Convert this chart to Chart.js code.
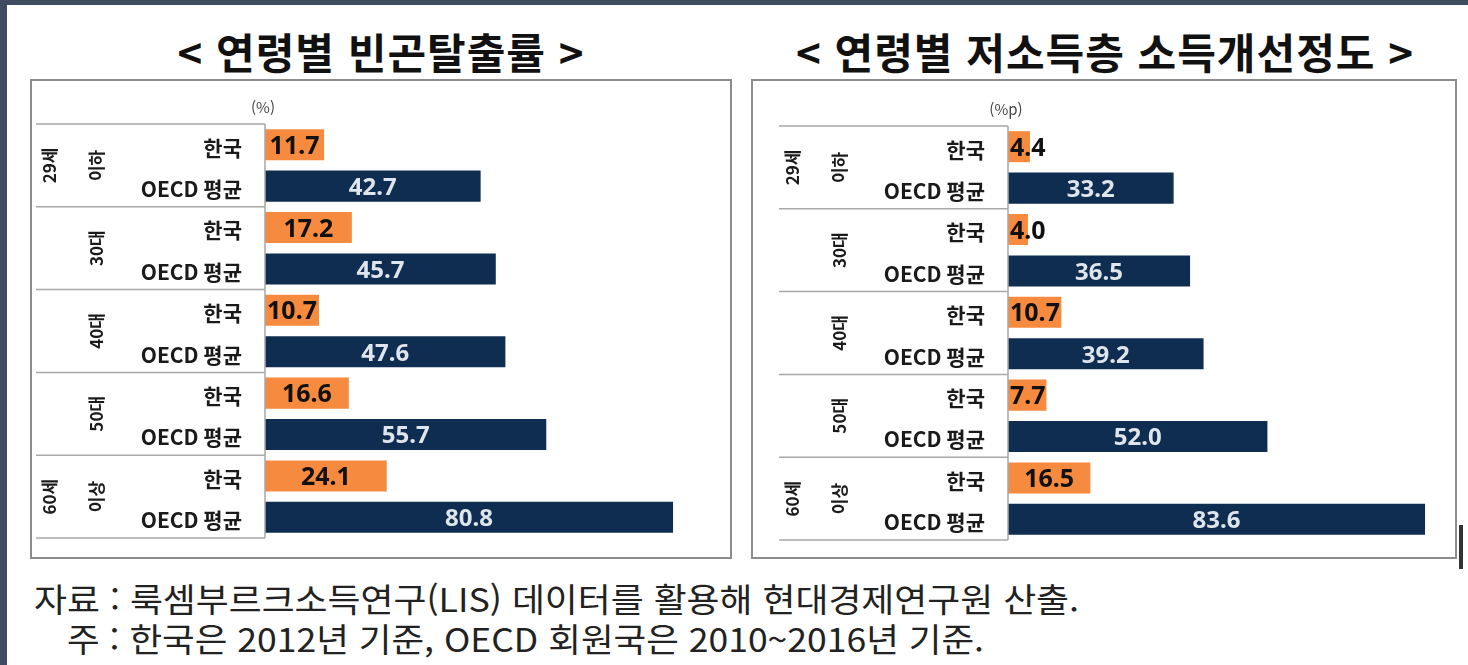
<!DOCTYPE html>
<html lang="ko">
<head>
<meta charset="utf-8">
<script src="https://cdn.jsdelivr.net/npm/chart.js@4.4.1/dist/chart.umd.min.js"></script>
<style>
  html, body { margin: 0; padding: 0; background: #fff; }
  body { width: 1468px; height: 665px; position: relative; overflow: hidden; font-family: "Noto Sans CJK KR", sans-serif; }
  .frame-top { position: absolute; left: 0; top: 0; width: 1468px; height: 5px; background: #3e4b61; }
  .frame-left { position: absolute; left: 0; top: 0; width: 7px; height: 665px; background: #3e4b61; }
  .title { position: absolute; top: 26px; font-size: 42px; font-weight: bold; color: #111; white-space: pre; line-height: 50px; letter-spacing: 1px; transform: translateX(-50%); }
  .box { position: absolute; top: 79px; height: 480px; border: 2px solid #8c8c8c; box-sizing: border-box; }
  .box canvas { position: absolute; left: 0; top: 0; }
  .note { position: absolute; font-size: 33px; color: #222; white-space: pre; line-height: 40px; transform-origin: 0 50%; }
  .mark { position: absolute; left: 1459px; top: 525px; width: 4px; height: 44px; background: #333; }
</style>
</head>
<body>
<div class="frame-top"></div>
<div class="frame-left"></div>

<div class="title" style="left:381px">&lt; 연령별 빈곤탈출률 &gt;</div>
<div class="title" style="left:1105px">&lt; 연령별 저소득층 소득개선정도 &gt;</div>

<div class="box" style="left:30px; width:702px;">
  <canvas id="escapeChart"></canvas>
</div>
<div class="box" style="left:751px; width:706px;">
  <canvas id="incomeChart"></canvas>
</div>
<div class="mark"></div>

<div class="note" id="note1" data-w="1045" style="left:34px; top:578px;">자료 : 룩셈부르크소득연구(LIS) 데이터를 활용해 현대경제연구원 산출.</div>
<div class="note" id="note2" data-w="917" style="left:67px; top:618px;">주 : 한국은 2012년 기준, OECD 회원국은 2010~2016년 기준.</div>

<script>
const ageGroups = [["29세", "이하"], ["30대"], ["40대"], ["50대"], ["60세", "이상"]];
const seriesNames = ["한국", "OECD 평균"];

// 연령별 빈곤탈출률 (%)
const escapeKorea = [11.7, 17.2, 10.7, 16.6, 24.1];
const escapeOecd = [42.7, 45.7, 47.6, 55.7, 80.8];

// 연령별 저소득층 소득개선정도 (%p)
const incomeKorea = [4.4, 4.0, 10.7, 7.7, 16.5];
const incomeOecd = [33.2, 36.5, 39.2, 52.0, 83.6];

const KOREA_COLOR = "#f68b3f";
const OECD_COLOR = "#0f2d50";

// the source notes use a narrow font, squeeze ours to the same width
document.querySelectorAll(".note").forEach(el => {
  const w = el.getBoundingClientRect().width;
  el.style.transform = "scaleX(" + (Number(el.dataset.w) / w) + ")";
});

// left side table: group labels, series labels and grid lines
const tablePlugin = {
  id: "ageTable",
  afterDraw(chart, args, opts) {
    const { ctx, chartArea: a } = chart;
    const yScale = chart.scales.y;
    const n = chart.data.labels.length;
    const step = (a.bottom - a.top) / n;

    ctx.save();
    ctx.strokeStyle = "#a8a8a8";
    ctx.lineWidth = 1.5;
    ctx.beginPath();
    for (let i = 0; i <= n; i++) {
      const y = a.top + i * step;
      ctx.moveTo(a.left - 229, y);
      ctx.lineTo(a.left, y);
    }
    ctx.moveTo(a.left, a.top);
    ctx.lineTo(a.left, a.bottom);
    ctx.stroke();

    // group labels, rotated
    ctx.fillStyle = "#1a1a1a";
    ctx.font = "bold 17px 'Noto Sans CJK KR'";
    ctx.textAlign = "center";
    ctx.textBaseline = "middle";
    ageGroups.forEach((lines, i) => {
      const yc = yScale.getPixelForValue(i);
      const cols = lines.length === 2 ? [a.left - 215, a.left - 168] : [a.left - 168];
      lines.forEach((t, j) => {
        ctx.save();
        ctx.translate(cols[j], yc);
        ctx.rotate(-Math.PI / 2);
        ctx.fillText(t, 0, 0);
        ctx.restore();
      });
    });

    // series labels
    ctx.font = "bold 21px 'Noto Sans CJK KR'";
    ctx.textAlign = "right";
    chart.data.datasets.forEach((ds, d) => {
      chart.getDatasetMeta(d).data.forEach(el => {
        ctx.fillText(seriesNames[d], a.left - 23, el.y + 3);
      });
    });

    // unit
    ctx.fillStyle = "#444";
    ctx.font = "15px 'Noto Sans CJK KR'";
    ctx.textAlign = "center";
    ctx.fillText(opts.unit, a.left - 2, a.top - 17);
    ctx.restore();
  }
};

const valuePlugin = {
  id: "barValues",
  afterDatasetsDraw(chart) {
    const { ctx } = chart;
    ctx.save();
    ctx.textBaseline = "middle";
    ctx.textAlign = "center";
    chart.data.datasets.forEach((ds, d) => {
      chart.getDatasetMeta(d).data.forEach((el, i) => {
        const txt = ds.data[i].toFixed(1);
        if (d === 0) {
          ctx.font = "bold 25px 'Noto Sans'";
          ctx.fillStyle = "#111";
        } else {
          ctx.font = "bold 24px 'Noto Sans'";
          ctx.fillStyle = "#dfe5ec";
        }
        const w = ctx.measureText(txt).width;
        const cx = Math.max((el.base + el.x) / 2, el.base + w / 2 + 2);
        ctx.fillText(txt, cx, el.y + 2);
      });
    });
    ctx.restore();
  }
};

function makeChart(id, korea, oecd, unit, xMax, padding, size) {
  const canvas = document.getElementById(id);
  canvas.style.width = size[0] + "px";
  canvas.style.height = size[1] + "px";
  canvas.width = size[0];
  canvas.height = size[1];
  return new Chart(canvas, {
    type: "bar",
    data: {
      labels: ageGroups.map(g => g.join(" ")),
      datasets: [
        { label: seriesNames[0], data: korea, backgroundColor: KOREA_COLOR },
        { label: seriesNames[1], data: oecd, backgroundColor: OECD_COLOR }
      ]
    },
    options: {
      indexAxis: "y",
      responsive: false,
      animation: false,
      layout: { padding: padding },
      datasets: { bar: { categoryPercentage: 1, barPercentage: 0.75 } },
      scales: {
        x: { display: false, min: 0, max: xMax },
        y: { display: false }
      },
      plugins: {
        legend: { display: false },
        tooltip: { enabled: false },
        ageTable: { unit: unit }
      }
    },
    plugins: [tablePlugin, valuePlugin]
  });
}

makeChart("escapeChart", escapeKorea, escapeOecd, "(%)", 90,
  { left: 233, top: 43, bottom: 19, right: 10.5 }, [698, 476]);
makeChart("incomeChart", incomeKorea, incomeOecd, "(%p)", 88,
  { left: 255, top: 45, bottom: 17, right: 8 }, [702, 476]);
</script>
</body>
</html>
